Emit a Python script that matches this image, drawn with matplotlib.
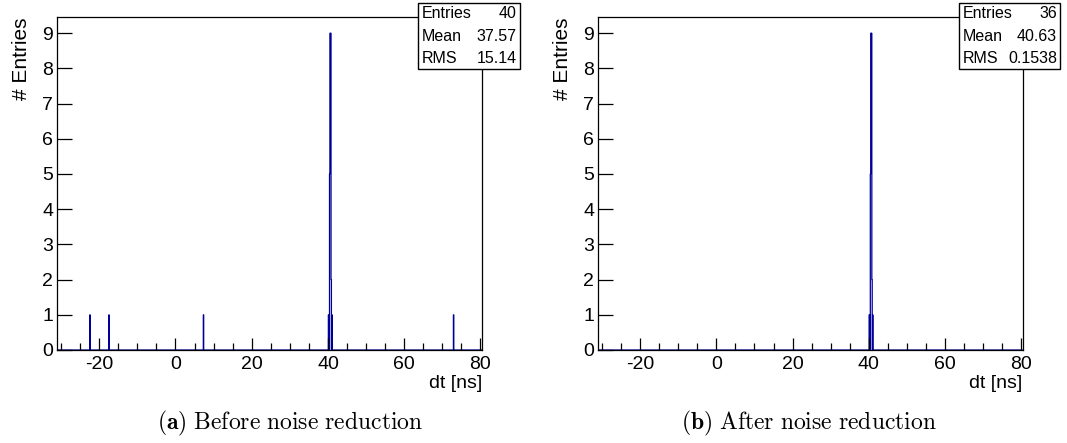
import numpy as np
import matplotlib
matplotlib.use("Agg")
import matplotlib.pyplot as plt
from matplotlib.ticker import MultipleLocator

plt.rcParams["font.family"] = ["Liberation Sans", "DejaVu Sans"]
plt.rcParams["mathtext.fontset"] = "cm"
plt.rcParams["axes.unicode_minus"] = False

# Time difference histogram, 0.1 ns bins
x_lo, x_hi, bin_w = -31.0, 80.4, 0.1

# Main coincidence peak (bin centre [ns] -> entries)
peak_dt = [40.15, 40.45, 40.55, 40.65, 40.75, 40.85, 41.05]
peak_n = [1, 5, 9, 9, 9, 2, 1]

# Uncorrelated noise hits removed by the noise reduction
noise_dt = [-22.45, -17.45, 7.35, 72.95]
noise_n = [1, 1, 1, 1]

stats_before = [("Entries", "40"), ("Mean", "37.57"), ("RMS", "15.14")]
stats_after = [("Entries", "36"), ("Mean", "40.63"), ("RMS", "0.1538")]

captions = [(r"$\mathbf{(a)}$", "Before noise reduction"),
            (r"$\mathbf{(b)}$", "After noise reduction")]

x_ticks = [-20, 0, 20, 40, 60, 80]
y_ticks = list(range(10))

edges = np.arange(x_lo, x_hi + bin_w / 2, bin_w)


def histogram(centres, weights):
    h, _ = np.histogram(centres, bins=edges, weights=weights)
    return h


h_before = histogram(peak_dt + noise_dt, peak_n + noise_n)
h_after = histogram(peak_dt, peak_n)

W, H = 1067, 443
fig = plt.figure(figsize=(W / 100, H / 100), dpi=100)

panels = [
    (57.3, 482.0, h_before, stats_before, 290),
    (598.3, 1022.7, h_after, stats_after, 809),
]
ax_top, ax_bot = 17.3, 350.0

line_col = "#000099"

for (px0, px1, hist, stats, cap_x), (cap_tag, cap_txt) in zip(panels, captions):
    ax = fig.add_axes([px0 / W, 1 - ax_bot / H, (px1 - px0) / W, (ax_bot - ax_top) / H])
    ax.stairs(hist, edges, baseline=0, color=line_col, linewidth=0.9)
    ax.set_xlim(x_lo, x_hi)
    ax.set_ylim(0, 9.45)
    ax.set_xticks(x_ticks)
    ax.set_yticks(y_ticks)
    ax.xaxis.set_minor_locator(MultipleLocator(5))
    ax.tick_params(axis="both", which="both", direction="in", top=False, right=False,
                   labelsize=14, width=0.9, color="black")
    ax.tick_params(axis="x", which="major", length=9, pad=4)
    ax.tick_params(axis="x", which="minor", length=5)
    ax.tick_params(axis="y", which="major", length=11, pad=3)
    for s in ax.spines.values():
        s.set_linewidth(0.9)
    ax.set_ylabel("# Entries", fontsize=15, loc="top", labelpad=8)
    ax.set_xlabel("dt [ns]", fontsize=14, loc="right", labelpad=2)

    # statistics box
    bx0, bx1, by0, by1 = px1 - 64.0, px1 + 37.5, 2.7, 69.3
    box = plt.Rectangle((bx0 / W, 1 - by1 / H), (bx1 - bx0) / W, (by1 - by0) / H,
                        transform=fig.transFigure, facecolor="white",
                        edgecolor="black", linewidth=1.0, zorder=5)
    fig.add_artist(box)
    for i, (name, val) in enumerate(stats):
        yy = 1 - (14.0 + 22.2 * i) / H
        fig.text((bx0 + 4) / W, yy, name, fontsize=11.5, va="center", ha="left", zorder=6)
        fig.text((bx1 - 3) / W, yy, val, fontsize=11.5, va="center", ha="right", zorder=6)

    fig.text(cap_x / W, 1 - 423 / H, cap_tag + r"$\ \mathrm{" + cap_txt.replace(" ", r"\ ") + "}$",
             fontsize=17, ha="center", va="center")

fig.savefig("out.png", dpi=100)
